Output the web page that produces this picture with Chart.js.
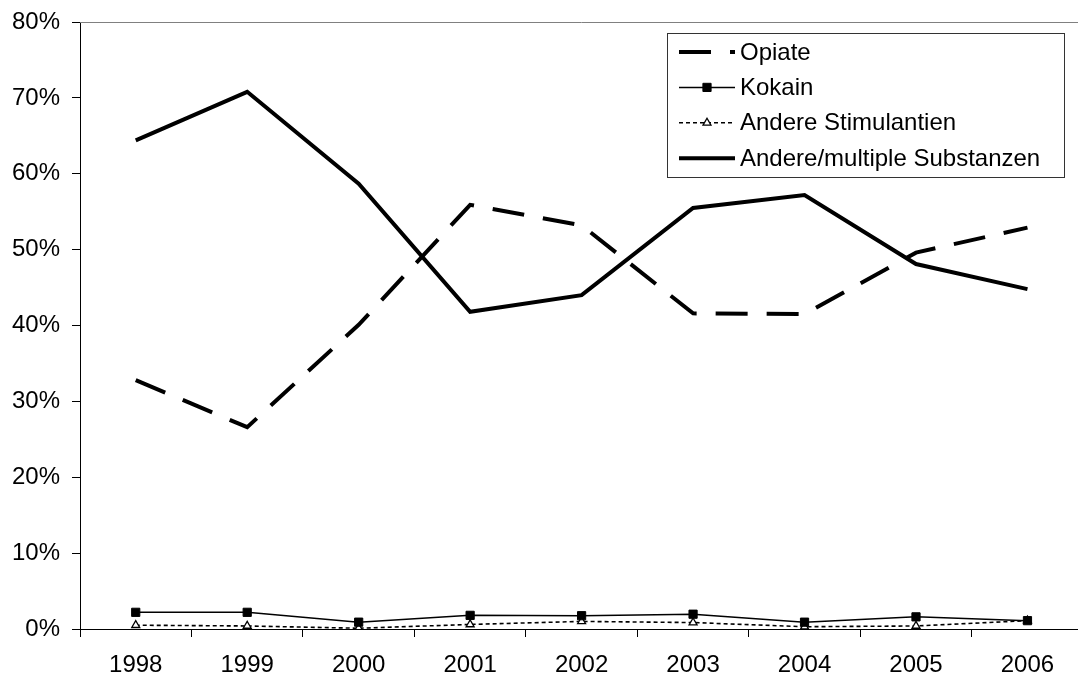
<!DOCTYPE html>
<html>
<head>
<meta charset="utf-8">
<script src="https://cdn.jsdelivr.net/npm/chart.js@4/dist/chart.umd.min.js"></script>
<style>
  html, body { margin: 0; padding: 0; background: #fff; overflow: hidden; }
  #wrap { width: 1090px; height: 679px; }
</style>
</head>
<body>
<div id="wrap"><canvas id="c" width="1090" height="679"></canvas></div>
<script>
// Years on the category axis
const years = ['1998', '1999', '2000', '2001', '2002', '2003', '2004', '2005', '2006'];

// Shares per main substance group, in percent
const opiate       = [32.8, 26.6, 40.1, 55.9, 53.2, 41.6, 41.5, 49.6, 52.9];
const kokain       = [2.2, 2.2, 0.9, 1.8, 1.75, 1.95, 0.9, 1.6, 1.1];
const stimulantien = [0.5, 0.4, 0.1, 0.6, 1.0, 0.85, 0.3, 0.4, 1.1];
const andere       = [64.4, 70.8, 58.7, 41.8, 44.0, 55.5, 57.2, 48.1, 44.8];

// Value axis ticks
const yTicks = [0, 10, 20, 30, 40, 50, 60, 70, 80];

const FONT = "'Liberation Sans', Arial, Helvetica, sans-serif";

// Framed legend drawn inside the plot area, using each dataset's own style
const boxedLegend = {
  id: 'boxedLegend',
  afterDraw(chart, args, o) {
    const ctx = chart.ctx;
    ctx.save();
    ctx.fillStyle = '#fff';
    ctx.fillRect(o.x, o.y, o.w, o.h);
    ctx.strokeStyle = '#333';
    ctx.lineWidth = 1;
    ctx.strokeRect(o.x + 0.5, o.y + 0.5, o.w, o.h);
    chart.data.datasets.forEach((ds, i) => {
      const cy = o.y + o.first + i * o.row;
      const x0 = o.x + o.padLeft;
      const x1 = x0 + o.sample;
      const mx = (x0 + x1) / 2;
      ctx.beginPath();
      ctx.setLineDash(ds.borderDash || []);
      ctx.lineDashOffset = 0;
      ctx.lineWidth = ds.borderWidth;
      ctx.strokeStyle = ds.borderColor;
      ctx.lineCap = 'butt';
      ctx.moveTo(x0, cy);
      ctx.lineTo(x1, cy);
      ctx.stroke();
      ctx.setLineDash([]);
      if (ds.pointRadius > 0) {
        ctx.fillStyle = ds.pointBackgroundColor;
        ctx.strokeStyle = ds.pointBorderColor;
        ctx.lineWidth = ds.pointBorderWidth;
        const r = ds.pointRadius;
        ctx.beginPath();
        if (ds.pointStyle === 'rect') {
          const s = r / Math.SQRT2;
          ctx.rect(mx - s, cy - s, 2 * s, 2 * s);
        } else if (ds.pointStyle === 'triangle') {
          const hw = r * Math.sin(Math.PI / 3);
          ctx.moveTo(mx, cy - r);
          ctx.lineTo(mx + hw, cy + r / 2);
          ctx.lineTo(mx - hw, cy + r / 2);
          ctx.closePath();
        }
        ctx.fill();
        ctx.stroke();
      }
      ctx.fillStyle = '#000';
      ctx.font = o.fontSize + 'px ' + FONT;
      ctx.textBaseline = 'middle';
      ctx.textAlign = 'left';
      ctx.fillText(ds.label, o.x + o.textLeft, cy + 1);
    });
    ctx.restore();
  }
};

// Thin grey frame line along the top of the plot area
const topFrame = {
  id: 'topFrame',
  beforeDatasetsDraw(chart) {
    const { ctx, chartArea } = chart;
    ctx.save();
    ctx.strokeStyle = '#808080';
    ctx.lineWidth = 1;
    ctx.beginPath();
    ctx.moveTo(chartArea.left, Math.round(chartArea.top) + 0.5);
    ctx.lineTo(chartArea.right, Math.round(chartArea.top) + 0.5);
    ctx.stroke();
    ctx.restore();
  }
};

new Chart(document.getElementById('c'), {
  type: 'line',
  data: {
    labels: years,
    datasets: [
      {
        label: 'Opiate',
        data: opiate,
        borderColor: '#000',
        borderWidth: 4,
        borderDash: [32, 19],
        pointRadius: 0,
        tension: 0,
        fill: false
      },
      {
        label: 'Kokain',
        data: kokain,
        borderColor: '#000',
        borderWidth: 1.5,
        pointStyle: 'rect',
        pointRadius: 5.8,
        pointBorderWidth: 1,
        pointBackgroundColor: '#000',
        pointBorderColor: '#000',
        tension: 0,
        fill: false
      },
      {
        label: 'Andere Stimulantien',
        data: stimulantien,
        borderColor: '#000',
        borderWidth: 1.6,
        borderDash: [4, 3],
        pointStyle: 'triangle',
        pointRadius: 4.6,
        pointBorderWidth: 1.3,
        pointBackgroundColor: '#fff',
        pointBorderColor: '#000',
        tension: 0,
        fill: false
      },
      {
        label: 'Andere/multiple Substanzen',
        data: andere,
        borderColor: '#000',
        borderWidth: 4,
        pointRadius: 0,
        tension: 0,
        fill: false
      }
    ]
  },
  options: {
    responsive: false,
    animation: false,
    layout: { padding: { top: 22, right: 0, bottom: 0, left: 0 } },
    plugins: {
      legend: { display: false },
      tooltip: { enabled: false },
      boxedLegend: {
        x: 667, y: 33, w: 397, h: 144,
        first: 19, row: 35.4,
        padLeft: 12, sample: 56, textLeft: 73,
        fontSize: 24
      }
    },
    scales: {
      x: {
        type: 'category',
        offset: true,
        grid: {
          offset: true,
          drawOnChartArea: false,
          drawTicks: true,
          tickLength: 8,
          tickColor: '#000',
          color: '#000'
        },
        border: { display: true, color: '#000', width: 1 },
        ticks: {
          color: '#000',
          padding: 14,
          maxRotation: 0,
          autoSkip: false,
          font: { family: FONT, size: 24 }
        },
        afterFit(scale) {
          scale.height = 50;
          scale.paddingLeft = 0;
          scale.paddingRight = 0;
        }
      },
      y: {
        min: 0,
        max: 80,
        afterBuildTicks(scale) { scale.ticks = yTicks.map(v => ({ value: v })); },
        grid: {
          drawOnChartArea: false,
          drawTicks: true,
          tickLength: 8,
          tickColor: '#000',
          color: '#000'
        },
        border: { display: true, color: '#000', width: 1 },
        ticks: {
          color: '#000',
          padding: 12,
          font: { family: FONT, size: 24 },
          callback: v => v + '%'
        },
        afterFit(scale) {
          scale.width = 80;
          scale.paddingTop = 0;
          scale.paddingBottom = 0;
        }
      }
    }
  },
  plugins: [topFrame, boxedLegend]
});
</script>
</body>
</html>
